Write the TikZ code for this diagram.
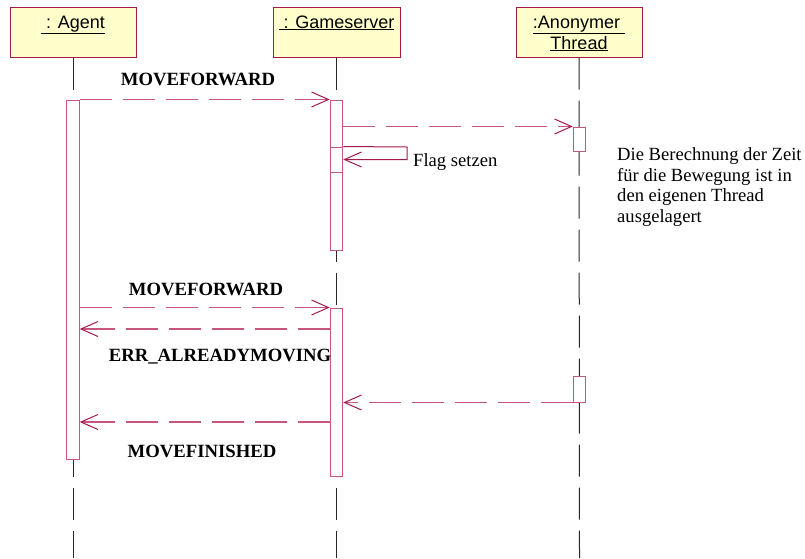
\documentclass[tikz,border=0pt]{standalone}
\usepackage{fontspec}
\setmainfont{Liberation Serif}
\newfontfamily\arialfont{Liberation Sans}
\usetikzlibrary{arrows.meta}
\definecolor{umlbox}{RGB}{255,255,204}
\definecolor{umlred}{RGB}{165,25,75}
\definecolor{umlpink}{RGB}{200,85,125}
\begin{document}
\begin{tikzpicture}[x=1pt,y=-1pt,
object/.style={
% The shape:
rectangle,
draw=umlred,
fill=umlbox,
line width=1pt,
minimum width=126pt,
minimum height=50pt
},
objname/.style={font=\arialfont\fontsize{18}{21}\selectfont,inner sep=0pt,anchor=base},
activation/.style={rectangle,draw=umlpink,fill=white,line width=1pt,minimum width=12.5pt,inner sep=0pt},
lifeline/.style={draw=black!85,line width=1pt,dash pattern=on 32pt off 11pt},
msg/.style={draw=umlpink,line width=1.3pt,dash pattern=on 32pt off 11pt,-{Straight Barb[length=17pt,width=15pt,color=umlred,line width=1pt]}},
selfmsg/.style={draw=umlred,line width=1pt,-{Straight Barb[length=17pt,width=15pt]}},
msglabel/.style={font=\bfseries\fontsize{18.7}{21}\selectfont,inner sep=0pt,anchor=base},
note/.style={font=\fontsize{18.6}{20.5}\selectfont,inner sep=0pt}
]
\useasboundingbox (0,0) rectangle (805,558);
% Objects:
\node[object] (agent) at (73,32) {};
\node[object,minimum width=127pt] (server) at (336.5,32) {};
\node[object] (thread) at (579,32) {};
\node[objname] (agentname) at (73,28) {\underline{\ : Agent}};
\node[objname] (servername) at (336.5,28) {\underline{\ : Gameserver}};
\node[objname] (threadname) at (579,28) {\underline{:Anonymer\ }};
\node[objname] (threadname2) at (579,49) {\underline{Thread}};
% Lifelines:
\coordinate (agentend) at (73,558);
\coordinate (serverend) at (336.5,558);
\coordinate (threadend) at (579.5,558);
\draw[lifeline] (agent.south) -- (agentend);
\draw[lifeline] (server.south) -- (serverend);
\draw[lifeline] (thread.south) -- (threadend);
% Activations:
\node[activation,minimum height=359pt] (agentact) at (73,279.5) {};
\node[activation,minimum height=150pt] (serveract) at (336.5,175) {};
\node[activation,minimum height=25pt] (flagact) at (336.5,159.5) {};
\node[activation,minimum height=24pt] (threadact) at (579.5,139) {};
\node[activation,minimum height=168pt] (serveract2) at (336.5,392) {};
\node[activation,minimum height=26pt] (threadact2) at (579.5,389) {};
% Messages:
\coordinate (flagturn) at (407,147);
\coordinate (err) at (200,329);
\coordinate (fin) at (200,422);
\path (agentact.north east) edge[msg] (serveract.north west)
 (serveract.east |- threadact.north west) edge[msg] (threadact.north west)
 (agentact.east |- serveract2.north) edge[msg] (serveract2.north west)
 (serveract2.west |- err) edge[msg] (agentact.east |- err)
 (threadact2.south west) edge[msg] (serveract2.east |- threadact2.south)
 (serveract2.west |- fin) edge[msg] (agentact.east |- fin);
\draw[selfmsg] (flagact.north east) -- (flagturn) -- (flagturn |- flagact.east) -- (flagact.east);
% Labels:
\node[msglabel] (fwd1) at (198,85) {MOVEFORWARD};
\node[msglabel] (fwd2) at (206,295) {MOVEFORWARD};
\node[msglabel] (errlabel) at (220,361) {ERR\_ALREADYMOVING};
\node[msglabel] (finished) at (202,457) {MOVEFINISHED};
\node[note,anchor=base west] (flag) at (413,166) {Flag setzen};
\node[note,anchor=north west,align=left] (remark) at (617,147.5) {Die Berechnung der Zeit\\für die Bewegung ist in\\den eigenen Thread\\ausgelagert};
\end{tikzpicture}
\end{document}
